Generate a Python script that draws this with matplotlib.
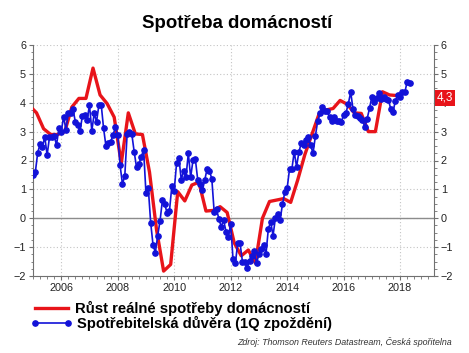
import numpy as np
import matplotlib
matplotlib.use("Agg")
import matplotlib.pyplot as plt
from matplotlib.lines import Line2D
from matplotlib.ticker import MultipleLocator
import matplotlib.transforms as mtransforms

plt.rcParams['font.family'] = ['Liberation Sans', 'DejaVu Sans']

# Real household consumption growth, quarterly, first value = Q4 2004
red_start = 2004.875
red_vals = [3.9,
            3.65, 3.1, 2.9, 2.9,
            3.0, 3.85, 4.15, 4.15,
            5.2, 4.27, 3.97, 3.5,
            1.9, 3.65, 2.92, 2.9,
            1.6, -0.4, -1.83, -1.6,
            0.92, 0.6, 1.15, 1.25,
            0.25, 0.27, 0.4, 0.2,
            -0.85, -1.3, -1.1, -1.55,
            0.0, 0.58, 0.63, 0.68,
            0.55, 1.33, 2.2, 2.9,
            3.6, 3.75, 3.8, 4.08,
            3.95, 3.65, 3.63, 3.0,
            3.0, 4.38, 4.27, 4.25]

# Consumer confidence (1Q lag), monthly from Jan 2005
blue_start = 2005.0
blue_2005 = [1.5, 1.6, 2.27, 2.57, 2.47, 2.82, 2.19, 2.8, 2.82, 2.85, 2.54, 3.11]
blue_2006 = [3.0, 3.52, 3.06, 3.63, 3.63, 3.77, 3.34, 3.23, 3.03, 3.55, 3.57, 3.4]
blue_2007 = [3.92, 3.03, 3.63, 3.34, 3.92, 3.92, 3.11, 2.5, 2.6, 2.65, 2.88, 3.15]
blue_2008 = [2.88, 1.84, 1.19, 1.46, 2.91, 3.0, 2.91, 2.3, 1.76, 1.88, 2.13, 2.36]
blue_2009 = [0.87, 1.04, -0.15, -0.92, -1.19, -0.6, -0.08, 0.63, 0.49, 0.17, 0.26, 1.12]
blue_2010 = [0.95, 1.9, 2.08, 1.33, 1.65, 1.42, 2.25, 1.42, 2.02, 2.04, 1.33, 1.17]
blue_2011 = [0.97, 1.33, 1.72, 1.65, 1.35, 0.2, 0.31, -0.03, -0.29, -0.06, -0.46, -0.66]
blue_2012 = [-0.2, -1.42, -1.56, -0.85, -0.87, -1.5, -1.5, -1.73, -1.47, -1.32, -1.15, -1.56]
blue_2013 = [-1.24, -1.05, -0.94, -1.24, -0.37, -0.12, -0.6, 0.0, 0.16, -0.07, 0.48, 0.9]
blue_2014 = [1.04, 1.7, 1.7, 2.3, 1.78, 2.3, 2.6, 2.55, 2.72, 2.82, 2.52, 2.25]
blue_2015 = [2.85, 3.38, 3.63, 3.86, 3.7, 3.7, 3.5, 3.38, 3.5, 3.38, 3.38, 3.34]
blue_2016 = [3.57, 3.65, 3.97, 4.37, 3.77, 3.57, 3.54, 3.48, 3.4, 3.17, 3.45, 3.81]
blue_2017 = [4.21, 4.03, 4.15, 4.35, 4.13, 4.2, 4.14, 4.1, 3.8, 3.69, 4.07, 4.27]
blue_2018 = [4.2, 4.38, 4.36, 4.73, 4.69]

blue_vals = (blue_2005 + blue_2006 + blue_2007 + blue_2008 + blue_2009 + blue_2010 +
             blue_2011 + blue_2012 + blue_2013 + blue_2014 + blue_2015 + blue_2016 +
             blue_2017 + blue_2018)

red_x = red_start + 0.25 * np.arange(len(red_vals))
blue_x = blue_start + np.arange(len(blue_vals)) / 12.0

red_name = "Růst reálné spotřeby domácností"
blue_name = "Spotřebitelská důvěra (1Q zpoždění)"
last_label = "4,3"
last_value = 4.17

RED = "#e8141a"
BLUE = "#1212d8"

fig = plt.figure(figsize=(4.69, 3.53), dpi=100)
ax = fig.add_axes([33 / 469, 1 - 276 / 353, (434 - 33) / 469, (276 - 45) / 353])

ax.plot(red_x, red_vals, color=RED, lw=2.4, zorder=3)
ax.plot(blue_x, blue_vals, color=BLUE, lw=1.2, marker='o', ms=3.8, zorder=4)

ax.set_xlim(2005.0, 2019.2)
ax.set_ylim(-2, 6)
ax.xaxis.set_major_locator(MultipleLocator(2))
ax.xaxis.set_minor_locator(MultipleLocator(0.25))
ax.yaxis.set_major_locator(MultipleLocator(1))
ax.yaxis.set_minor_locator(MultipleLocator(0.25))
ax.grid(True, which='major', color='#c4c4c4', linestyle=(0, (1, 2)), lw=0.8)
ax.axhline(0, color='#8c8c8c', lw=1.0, zorder=2)

ax.spines['top'].set_visible(False)
for s in ['left', 'right', 'bottom']:
    ax.spines[s].set_color('#707070')
ax.tick_params(which='both', direction='out', colors='#707070', labelcolor='#222222',
               left=True, right=True, labelleft=True, labelright=True, labelsize=7.8)
ax.tick_params(which='major', length=3, pad=2)
ax.tick_params(which='minor', length=1.8)

trans = mtransforms.blended_transform_factory(ax.transAxes, ax.transData)
ax.text(1.006, last_value, last_label, transform=trans, color='white', fontsize=8.5,
        ha='left', va='center', zorder=10,
        bbox=dict(boxstyle='square,pad=0.15', facecolor=RED, edgecolor='none'))

fig.text(237 / 469, 1 - 23 / 353, "Spotřeba domácností", ha='center', va='center',
         fontsize=13.4, fontweight='bold')

# legend drawn by hand below the plot
y1 = 1 - 308 / 353
y2 = 1 - 323 / 353
fig.add_artist(Line2D([35 / 469, 68 / 469], [y1, y1], color=RED, lw=2.4))
fig.add_artist(Line2D([35 / 469, 68 / 469], [y2, y2], color=BLUE, lw=1.2,
                      marker='o', ms=3.8))
fig.text(75 / 469, y1, red_name, ha='left', va='center', fontsize=10.7, fontweight='bold')
fig.text(77 / 469, y2, blue_name, ha='left', va='center', fontsize=10.6, fontweight='bold')

fig.text(452 / 469, 1 - 342 / 353, "Zdroj: Thomson Reuters Datastream, Česká spořitelna",
         ha='right', va='center', fontsize=6.4, style='italic', color='#333333')

fig.savefig("out.png", dpi=100)
